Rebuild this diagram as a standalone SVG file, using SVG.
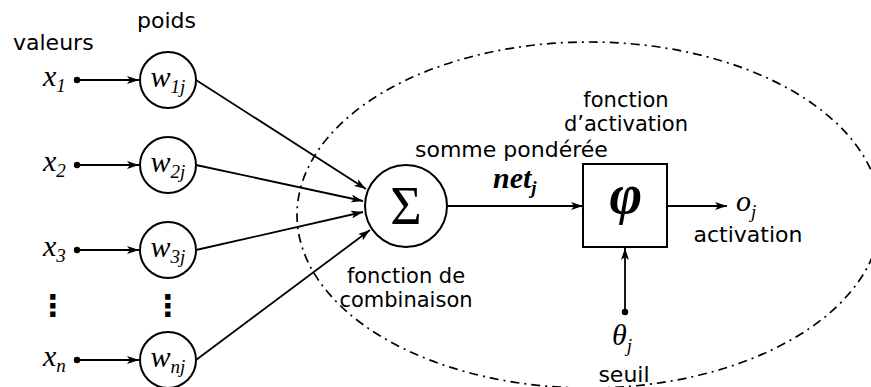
<svg xmlns="http://www.w3.org/2000/svg" width="871" height="387" viewBox="0 0 871 387">
<style>
.lbl{font-family:"DejaVu Sans","Liberation Sans",sans-serif;font-size:22px;fill:#000}
.l2{font-size:21px}
.m{font-family:"Liberation Serif","DejaVu Serif",serif;font-style:italic;font-size:30px;fill:#000}
.b{font-weight:bold}
.s{font-size:19px}
.ln{stroke:#000;stroke-width:1.8;fill:none}
.nd{stroke:#000;stroke-width:2;fill:#fff}
.dot{fill:#000}
.ell{stroke:#000;stroke-width:1.7;fill:none;stroke-dasharray:9 5 2 5}
.dots{font-family:"DejaVu Sans",sans-serif;font-weight:bold;font-size:30px;fill:#000}
</style>
<defs>
<marker id="ah" markerUnits="userSpaceOnUse" markerWidth="13" markerHeight="8" refX="12" refY="4" orient="auto">
<path d="M0,0 L12,4 L0,8 L3,4 Z" fill="#000"/>
</marker>
</defs>
<ellipse class="ell" cx="589" cy="215" rx="292" ry="173"/>
<g id="labels">
<text class="lbl" x="13" y="50">valeurs</text>
<text class="lbl" x="137" y="28">poids</text>
<text class="lbl" x="415" y="157">somme pondérée</text>
<text class="lbl l2" x="626" y="107" text-anchor="middle">fonction</text>
<text class="lbl l2" x="626" y="131" text-anchor="middle">d’activation</text>
<text class="lbl l2" x="406" y="283" text-anchor="middle">fonction de</text>
<text class="lbl l2" x="406" y="307" text-anchor="middle">combinaison</text>
<text class="lbl" x="748" y="242" text-anchor="middle">activation</text>
<text class="lbl" x="624" y="382" text-anchor="middle">seuil</text>
<text class="m b" x="493" y="188">net<tspan class="s" dy="6">j</tspan></text>
<text class="m" x="736" y="211">o<tspan class="s" dy="7">j</tspan></text>
<text class="m" x="612" y="345">θ<tspan class="s" dy="7">j</tspan></text>
<text class="dots" x="53" y="316" text-anchor="middle">⋮</text>
<text class="dots" x="168" y="316" text-anchor="middle">⋮</text>
</g>
<g id="connectors">
<line class="ln" x1="77" y1="80" x2="139" y2="80" marker-end="url(#ah)"/>
<line class="ln" x1="77" y1="165" x2="139" y2="165" marker-end="url(#ah)"/>
<line class="ln" x1="77" y1="250" x2="139" y2="250" marker-end="url(#ah)"/>
<line class="ln" x1="77" y1="360" x2="139" y2="360" marker-end="url(#ah)"/>
<line class="ln" x1="196" y1="80" x2="366" y2="189" marker-end="url(#ah)"/>
<line class="ln" x1="196" y1="165" x2="363" y2="201" marker-end="url(#ah)"/>
<line class="ln" x1="196" y1="250" x2="363" y2="212" marker-end="url(#ah)"/>
<line class="ln" x1="196" y1="360" x2="370" y2="230" marker-end="url(#ah)"/>
<line class="ln" x1="447" y1="206" x2="583" y2="206" marker-end="url(#ah)"/>
<line class="ln" x1="667" y1="206" x2="727" y2="206" marker-end="url(#ah)"/>
<line class="ln" x1="625" y1="312" x2="625" y2="248" marker-end="url(#ah)"/>
<circle class="dot" cx="77" cy="80" r="3.2"/>
<circle class="dot" cx="77" cy="165" r="3.2"/>
<circle class="dot" cx="77" cy="250" r="3.2"/>
<circle class="dot" cx="77" cy="360" r="3.2"/>
<circle class="dot" cx="625" cy="312" r="3.2"/>
</g>
<g id="x1"><text class="m" x="43" y="86">x<tspan class="s" dy="6">1</tspan></text></g>
<g id="x2"><text class="m" x="43" y="171">x<tspan class="s" dy="6">2</tspan></text></g>
<g id="x3"><text class="m" x="43" y="256">x<tspan class="s" dy="6">3</tspan></text></g>
<g id="xn"><text class="m" x="43" y="366">x<tspan class="s" dy="6">n</tspan></text></g>
<g id="w1j"><circle class="nd" cx="168" cy="80" r="28"/><text class="m" x="168" y="87" text-anchor="middle">w<tspan class="s" dy="6">1j</tspan></text></g>
<g id="w2j"><circle class="nd" cx="168" cy="165" r="28"/><text class="m" x="168" y="172" text-anchor="middle">w<tspan class="s" dy="6">2j</tspan></text></g>
<g id="w3j"><circle class="nd" cx="168" cy="250" r="28"/><text class="m" x="168" y="257" text-anchor="middle">w<tspan class="s" dy="6">3j</tspan></text></g>
<g id="wnj"><circle class="nd" cx="168" cy="360" r="28"/><text class="m" x="168" y="367" text-anchor="middle">w<tspan class="s" dy="6">nj</tspan></text></g>
<g id="sigma"><circle class="nd" cx="406" cy="206" r="41"/><text x="406" y="224" text-anchor="middle" style="font-family:'Liberation Serif','DejaVu Serif',serif;font-size:54px">Σ</text></g>
<g id="phi"><rect class="nd" x="583" y="164" width="84" height="83"/><text class="m b" x="626" y="213" text-anchor="middle" style="font-size:56px">φ</text></g>
</svg>
